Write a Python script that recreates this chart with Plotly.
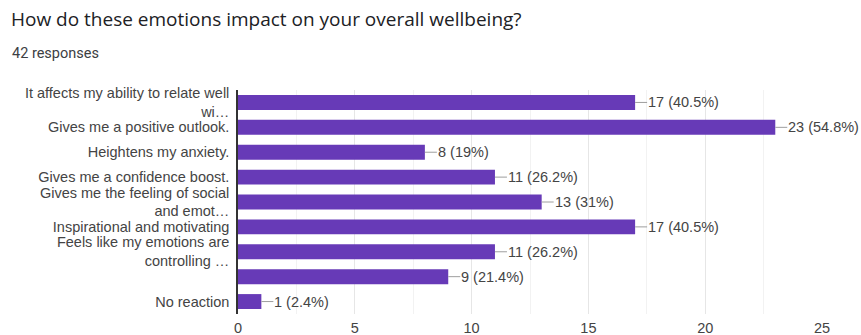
import plotly.graph_objects as go

# Survey answers (top to bottom) and response counts
categories = [
    "It affects my ability to relate well<br>wi…",
    "Gives me a positive outlook.",
    "Heightens my anxiety.",
    "Gives me a confidence boost.",
    "Gives me the feeling of social<br>and emot…",
    "Inspirational and motivating",
    "Feels like my emotions are<br>controlling …",
    "",
    "No reaction",
]
counts = [17, 23, 8, 11, 13, 17, 11, 9, 1]
total_responses = 42
x_ticks = [0, 5, 10, 15, 20, 25]

W, H = 861, 335
LEFT, RIGHT = 238, 822
TOP, BOTTOM = 89.5, 314

PURPLE = "#673ab7"
TEXT = "#444444"
FONT = "Liberation Sans, Arial, sans-serif"
FS = 14.5


def pct_label(v):
    p = round(100 * v / total_responses, 1)
    s = f"{p:.1f}".rstrip("0").rstrip(".")
    return f"{v} ({s}%)"


idx = list(range(len(categories)))

fig = go.Figure(
    go.Bar(
        x=counts,
        y=idx,
        orientation="h",
        marker=dict(color=PURPLE, line=dict(width=0)),
        width=0.6,
        hoverinfo="skip",
    )
)

shapes = []
annotations = []
for i, v in zip(idx, counts):
    # short leader line from the bar end to its value label
    shapes.append(dict(
        type="line", xref="x", yref="y",
        xsizemode="pixel", xanchor=v, x0=0, x1=12,
        y0=i, y1=i,
        line=dict(color="#9e9e9e", width=1),
    ))
    annotations.append(dict(
        x=v, y=i, xref="x", yref="y",
        text=pct_label(v), showarrow=False,
        xanchor="left", yanchor="middle", xshift=11,
        font=dict(family=FONT, size=FS, color=TEXT),
    ))

pw = RIGHT - LEFT
ph = BOTTOM - TOP
annotations.append(dict(
    xref="paper", yref="paper",
    x=(10 - LEFT) / pw, y=(BOTTOM - 53) / ph,
    text="42 responses", showarrow=False,
    xanchor="left", yanchor="middle",
    font=dict(family="Roboto, sans-serif", size=14.5, color="#3c4043"),
))

fig.update_layout(
    width=W, height=H,
    margin=dict(l=LEFT, r=W - RIGHT, t=TOP, b=H - BOTTOM, autoexpand=False),
    paper_bgcolor="white", plot_bgcolor="white",
    showlegend=False,
    bargap=0.4,
    title=dict(
        text="How do these emotions impact on your overall wellbeing?",
        x=11 / W, xanchor="left", xref="container",
        y=1 - 19 / H, yanchor="middle", yref="container",
        font=dict(family="Open Sans, sans-serif", size=19, color="#202124"),
    ),
    xaxis=dict(
        range=[0, 25],
        tickvals=x_ticks,
        ticktext=[str(t) for t in x_ticks],
        showgrid=True, gridcolor="#e6e6e6", gridwidth=1,
        minor=dict(dtick=2.5, showgrid=True, gridcolor="#f2f2f2", gridwidth=1),
        zeroline=False, showline=False, ticks="",
        tickfont=dict(family=FONT, size=FS, color=TEXT),
        ticklabelstandoff=3,
        automargin=False, fixedrange=True,
    ),
    yaxis=dict(
        range=[len(categories) - 0.5, -0.5],
        tickvals=idx, ticktext=categories,
        showgrid=False, zeroline=False,
        showline=True, linecolor="#333333", linewidth=1.5,
        ticks="", ticklabelstandoff=4,
        tickfont=dict(family=FONT, size=FS, color=TEXT),
        automargin=False, fixedrange=True,
    ),
    shapes=shapes,
    annotations=annotations,
)

fig.write_html("out.html")
